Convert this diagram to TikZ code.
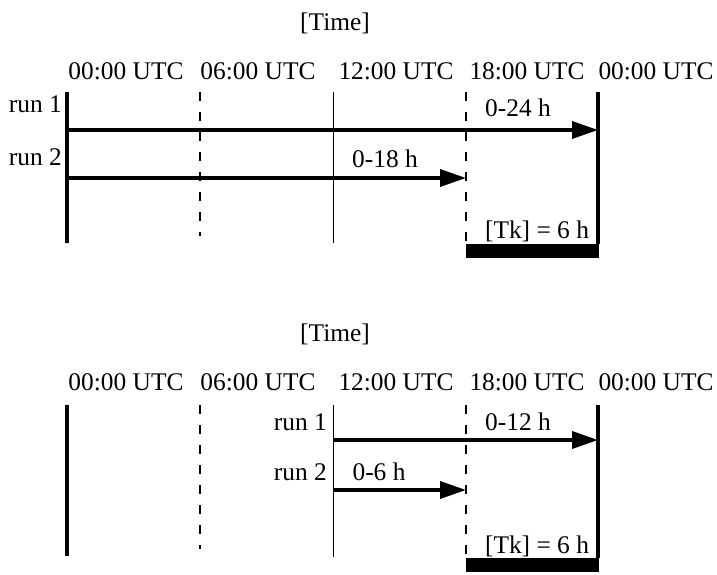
\documentclass[tikz,border=0pt]{standalone}
\usepackage{fontspec}
\setmainfont{Liberation Serif}
\usetikzlibrary{arrows.meta}
\begin{document}
\begin{tikzpicture}[x=1pt,y=-1pt,
  txt/.style={font=\fontsize{25.4}{30}\selectfont,inner sep=0pt,anchor=base},
  lbl/.style={txt,anchor=base east},
  thickax/.style={line width=3.2pt},
  thinax/.style={line width=1pt},
  dashax/.style={line width=2.6pt,dash pattern=on 9pt off 11pt},
  runarrow/.style={line width=3.6pt,-{Triangle[length=26pt,width=17pt]}},
  tkbar/.style={fill=black}]
\useasboundingbox (0,0) rectangle (717,575);

% ---------- upper panel: 00 UTC runs ----------
\node[txt] (timeA) at (335,31) {[Time]};
\node[txt] (hA0)  at (126,80) {00:00 UTC};
\node[txt] (hA6)  at (258,80) {06:00 UTC};
\node[txt] (hA12) at (396,80) {12:00 UTC};
\node[txt] (hA18) at (527,80) {18:00 UTC};
\node[txt] (hA24) at (656,80) {00:00 UTC};

\coordinate (a0t) at (67,92);   \coordinate (a0b) at (67,243);
\coordinate (a6t) at (200,92);  \coordinate (a6b) at (200,236);
\coordinate (a12t) at (333,92); \coordinate (a12b) at (333,243);
\coordinate (a18t) at (466,92); \coordinate (a18b) at (466,244);
\coordinate (a24t) at (598,92); \coordinate (a24b) at (598,244);
\draw[thickax] (a0t) -- (a0b);
\draw[dashax]  (a6t) -- (a6b);
\draw[thinax]  (a12t) -- (a12b);
\draw[dashax]  (a18t) -- (a18b);
\draw[thickax] (a24t) -- (a24b);

\node[lbl] (runA1) at (62,113) {run 1};
\node[lbl] (runA2) at (62,165) {run 2};
\coordinate (rA1s) at (67,130);  \coordinate (rA1e) at (598,130);
\coordinate (rA2s) at (67,178);  \coordinate (rA2e) at (466,178);
\draw[runarrow] (rA1s) -- (rA1e);
\draw[runarrow] (rA2s) -- (rA2e);
\node[txt] (lenA1) at (518,117) {0-24 h};
\node[txt] (lenA2) at (385,167) {0-18 h};

\node[txt] (tkA) at (537,238) {[Tk] = 6 h};
\node[tkbar,minimum width=133pt,minimum height=14pt,inner sep=0pt,anchor=north west] (barA) at (466,244) {};

% ---------- lower panel: 12 UTC runs ----------
\node[txt] (timeB) at (335,341) {[Time]};
\node[txt] (hB0)  at (126,390) {00:00 UTC};
\node[txt] (hB6)  at (258,390) {06:00 UTC};
\node[txt] (hB12) at (396,390) {12:00 UTC};
\node[txt] (hB18) at (527,390) {18:00 UTC};
\node[txt] (hB24) at (656,390) {00:00 UTC};

\coordinate (b0t) at (67,405);   \coordinate (b0b) at (67,556);
\coordinate (b6t) at (200,405);  \coordinate (b6b) at (200,549);
\coordinate (b12t) at (333,405); \coordinate (b12b) at (333,557);
\coordinate (b18t) at (466,405); \coordinate (b18b) at (466,558);
\coordinate (b24t) at (598,405); \coordinate (b24b) at (598,558);
\draw[thickax] (b0t) -- (b0b);
\draw[dashax]  (b6t) -- (b6b);
\draw[thinax]  (b12t) -- (b12b);
\draw[dashax]  (b18t) -- (b18b);
\draw[thickax] (b24t) -- (b24b);

\node[lbl] (runB1) at (327,430) {run 1};
\node[lbl] (runB2) at (327,480) {run 2};
\coordinate (rB1s) at (333,440);  \coordinate (rB1e) at (598,440);
\coordinate (rB2s) at (333,490);  \coordinate (rB2e) at (466,490);
\draw[runarrow] (rB1s) -- (rB1e);
\draw[runarrow] (rB2s) -- (rB2e);
\node[txt] (lenB1) at (518,430) {0-12 h};
\node[txt] (lenB2) at (379,480) {0-6 h};

\node[txt] (tkB) at (537,553) {[Tk] = 6 h};
\node[tkbar,minimum width=133pt,minimum height=14pt,inner sep=0pt,anchor=north west] (barB) at (466,558) {};
\end{tikzpicture}
\end{document}
